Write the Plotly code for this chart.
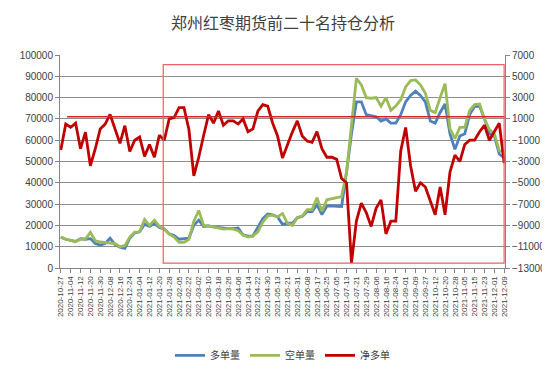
import plotly.graph_objects as go

TITLE = "郑州红枣期货前二十名持仓分析"
SERIES_NAMES = ["多单量", "空单量", "净多单"]

# labelled trading dates (every 6th trading day)
TICK_LABELS = [
    "2020-10-27", "2020-11-04", "2020-11-12", "2020-11-20", "2020-11-30", "2020-12-08",
    "2020-12-16", "2020-12-24", "2021-01-04", "2021-01-12", "2021-01-20", "2021-01-28",
    "2021-02-05", "2021-02-22", "2021-03-02", "2021-03-10", "2021-03-18", "2021-03-26",
    "2021-04-06", "2021-04-14", "2021-04-22", "2021-04-30", "2021-05-13", "2021-05-21",
    "2021-05-31", "2021-06-08", "2021-06-17", "2021-06-25", "2021-07-05", "2021-07-13",
    "2021-07-21", "2021-07-29", "2021-08-06", "2021-08-16", "2021-08-24", "2021-09-01",
    "2021-09-09", "2021-09-27", "2021-10-12", "2021-10-20", "2021-10-28", "2021-11-05",
    "2021-11-15", "2021-11-23", "2021-12-01", "2021-12-09",
]
# sampled dates lying between the labelled ones
MID_DATES = [
    "2020-10-30", "2020-11-09", "2020-11-17", "2020-11-25", "2020-12-03", "2020-12-11",
    "2020-12-21", "2020-12-29", "2021-01-07", "2021-01-15", "2021-01-25", "2021-02-02",
    "2021-02-10", "2021-02-25", "2021-03-05", "2021-03-15", "2021-03-23", "2021-03-31",
    "2021-04-09", "2021-04-19", "2021-04-27", "2021-05-10", "2021-05-18", "2021-05-26",
    "2021-06-03", "2021-06-11", "2021-06-22", "2021-06-30", "2021-07-08", "2021-07-16",
    "2021-07-26", "2021-08-03", "2021-08-11", "2021-08-19", "2021-08-27", "2021-09-06",
    "2021-09-14", "2021-09-30", "2021-10-15", "2021-10-25", "2021-11-02", "2021-11-10",
    "2021-11-18", "2021-11-26", "2021-12-06",
]

LONG = [
    14500, 13500, 13000, 12500, 13800, 13500, 13800, 11500, 10800, 11500,
    14000, 11000, 9800, 9200, 14000, 16500, 17000, 20600, 19500, 21000,
    19000, 18300, 16000, 15300, 13500, 13600, 14000, 20000, 22500, 19500,
    19800, 19300, 19000, 18500, 18500, 18500, 18800, 15500, 15000, 15000,
    19000, 23200, 25400, 25000, 24000, 20500, 21000, 21000, 23600, 24200,
    26500, 26500, 29700, 25100, 29000, 29200, 29000, 28900, 45000, 63000,
    78000, 78000, 72000, 71400, 71000, 69000, 70000, 68000, 68000, 72000,
    78000, 81000, 83000, 81000, 78000, 69000, 68000, 73000, 77000, 63000,
    55700, 62000, 63000, 72000, 75900, 76000, 70000, 63000, 62000, 53500,
    51700,
]
SHORT = [
    14500, 13500, 13000, 12300, 13500, 13600, 16800, 12800, 12200, 12000,
    12000, 11500, 10000, 10500, 14500, 16800, 17000, 22800, 20000, 22500,
    19500, 18300, 16000, 14500, 12000, 12000, 13500, 22000, 27000, 20000,
    19800, 19300, 19000, 18300, 18500, 18200, 17500, 15500, 14500, 15000,
    17000, 21500, 24500, 24800, 24000, 25600, 21000, 20000, 23600, 24400,
    27400, 27400, 33000, 26700, 32000, 32400, 33000, 33500, 45000, 68000,
    89000, 86000, 80000, 79700, 80000, 76000, 80000, 74000, 76000, 79000,
    85000, 88000, 88300, 86000, 82000, 74000, 73000, 80000, 86500, 65300,
    60700, 66000, 66000, 74000, 76700, 77000, 70000, 65000, 63000, 55000,
    54700,
]
NET_LONG = [
    -1910, 516, 220, 600, -1800, -240, -3400, -1800, 60, 516,
    1420, 60, -1300, 360, -2060, -1000, -700, -2520, -1400, -2600,
    -540, -1000, 1000, 1120, 2060, 2060, 0, -4340, -2600, -540,
    1400, 600, 1740, 400, 820, 820, 516, 1000, -200, 60,
    1740, 2340, 2200, 600, -600, -2660, -1400, -240, 820, -600,
    -1080, -1200, -200, -1800, -2600, -2600, -2800, -4600, -5000, -12520,
    -8600, -6900, -7800, -9100, -7400, -6600, -9800, -8600, -8600, -2000,
    200, -3400, -5800, -5000, -5400, -6800, -8000, -5400, -8000, -4000,
    -2400, -3000, -1400, -1000, -1000, -200, 400, -1000, -200, 600,
    -3140,
]

# interleave labelled and mid dates into the sampled category list
DATES = []
for k, d in enumerate(TICK_LABELS):
    DATES.append(d)
    if k < len(MID_DATES):
        DATES.append(MID_DATES[k])

COLORS = ["#4f81bd", "#9bbb59", "#c00000"]

fig = go.Figure()
fig.add_trace(go.Scatter(x=DATES, y=LONG, name=SERIES_NAMES[0], mode="lines",
                         line=dict(color=COLORS[0], width=2.8), yaxis="y"))
fig.add_trace(go.Scatter(x=DATES, y=SHORT, name=SERIES_NAMES[1], mode="lines",
                         line=dict(color=COLORS[1], width=2.8), yaxis="y"))
fig.add_trace(go.Scatter(x=DATES, y=NET_LONG, name=SERIES_NAMES[2], mode="lines",
                         line=dict(color=COLORS[2], width=2.8), yaxis="y2"))

axis_font = dict(family="Liberation Sans, Arial, sans-serif", size=10, color="#404040")
n = len(DATES)
fig.update_layout(
    width=550, height=374,
    margin=dict(l=40, r=41, t=47, b=107),
    paper_bgcolor="white", plot_bgcolor="white",
    title=dict(text=TITLE, x=0.5, xanchor="center", y=0.96, yanchor="middle",
               font=dict(family="Noto Sans CJK SC", size=16, color="#404040")),
    xaxis=dict(type="category", categoryorder="array", categoryarray=DATES,
               range=[-1 / 6, n - 1 + 1 / 6],
               tickvals=TICK_LABELS, ticktext=TICK_LABELS, tickangle=-90,
               tickfont=dict(family="Liberation Sans, Arial, sans-serif", size=8, color="#404040"),
               showgrid=False, showline=True, linecolor="#868686", linewidth=1,
               ticks="outside", ticklen=4, tickcolor="#868686", zeroline=False),
    yaxis=dict(range=[0, 100000], dtick=10000, tick0=0, tickformat="d",
               tickfont=axis_font, showgrid=True, gridcolor="#8f8f8f", gridwidth=1,
               showline=True, linecolor="#868686", ticks="outside", ticklen=4,
               tickcolor="#868686", zeroline=False),
    yaxis2=dict(range=[-13000, 7000], dtick=2000, tick0=-13000, tickformat="d",
                overlaying="y", side="right", tickfont=axis_font, showgrid=False,
                showline=True, linecolor="#868686", ticks="outside", ticklen=4,
                tickcolor="#868686", zeroline=False),
    legend=dict(orientation="h", x=0.5, xanchor="center", y=-0.41, yanchor="middle",
                font=dict(family="Noto Sans CJK SC", size=10, color="#404040"),
                bgcolor="rgba(0,0,0,0)"),
    showlegend=True,
    shapes=[
        dict(type="line", xref="paper", yref="y", x0=0.016, x1=1.0, y0=71000, y1=71000,
             line=dict(color="#d02828", width=1.5)),
        dict(type="rect", xref="paper", yref="paper", x0=0.232, x1=0.998, y0=0.023, y1=0.955,
             line=dict(color="#f06060", width=1.2)),
    ],
)

fig.write_html("out.html")
